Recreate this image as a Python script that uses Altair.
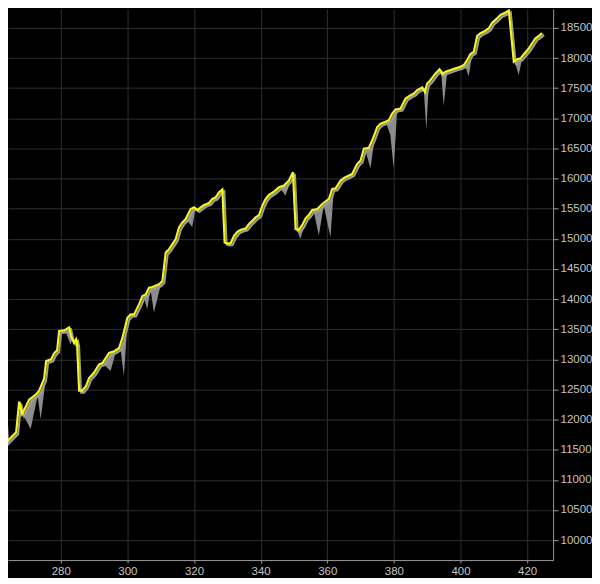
import altair as alt
import pandas as pd

# index (x) and closing value (yellow line)
x_vals = [261.5, 262.7, 263.6, 266.6, 267.5, 268.4, 270.5, 272.6, 273.5, 275.0,
          275.6, 277.1, 278.0, 278.9, 279.5, 281.0, 282.5, 283.1, 284.0, 284.6,
          284.9, 285.5, 286.4, 287.6, 288.5, 290.0, 291.5, 292.5, 294.5, 296.0,
          297.5, 298.5, 299.5, 300.0, 301.0, 302.0, 303.5, 304.5, 305.5, 306.5,
          307.5, 309.5, 310.5, 311.5, 312.5, 313.5, 314.5, 315.5, 316.5, 317.5,
          319.0, 320.0, 321.0, 322.0, 323.0, 324.5, 325.5, 326.5, 327.5, 328.5,
          329.2, 330.0, 331.0, 332.0, 333.0, 334.0, 335.5, 336.5, 337.5, 338.5,
          339.5, 340.5, 341.5, 342.5, 344.0, 345.5, 347.0, 348.5, 349.7, 350.5,
          351.5, 352.5, 353.5, 354.5, 355.5, 357.0, 358.5, 360.5, 361.5, 362.5,
          364.0, 365.0, 366.5, 367.5, 369.0, 370.0, 371.0, 372.5, 373.7, 375.0,
          376.0, 377.3, 378.5, 379.5, 380.5, 382.0, 383.5, 385.0, 386.0, 387.0,
          388.5, 389.3, 390.0, 391.0, 392.3, 393.7, 394.5, 395.5, 397.0, 398.5,
          400.0, 401.0, 402.0, 403.0, 404.0, 405.0, 406.0, 407.5, 408.5, 409.5,
          410.7, 412.0, 413.5, 414.5, 416.0, 417.0, 418.0, 419.0, 420.3, 421.5,
          422.5, 423.5, 424.5]
close_vals = [12330, 12500, 11620, 11790, 12300, 12090, 12330, 12420, 12480, 12680,
              12970, 13000, 13100, 13150, 13470, 13480, 13530, 13380, 13270, 13330,
              13250, 12480, 12480, 12560, 12690, 12780, 12917, 12938, 13105, 13133,
              13188, 13355, 13578, 13688, 13745, 13745, 13912, 14050, 14078, 14188,
              14200, 14245, 14300, 14772, 14828, 14912, 14995, 15188, 15272, 15328,
              15495, 15522, 15478, 15522, 15562, 15595, 15662, 15688, 15772, 15817,
              14938, 14922, 14928, 15050, 15117, 15150, 15172, 15245, 15300, 15355,
              15395, 15550, 15662, 15728, 15783, 15855, 15883, 15967, 16105, 15162,
              15150, 15230, 15340, 15400, 15478, 15495, 15578, 15662, 15828, 15838,
              15967, 16012, 16050, 16078, 16245, 16300, 16495, 16512, 16662, 16855,
              16912, 16938, 16967, 17078, 17145, 17162, 17328, 17383, 17412, 17467,
              17512, 17438, 17578, 17633, 17733, 17812, 17733, 17772, 17800, 17828,
              17855, 17883, 17967, 18067, 18105, 18367, 18412, 18455, 18495, 18588,
              18645, 18717, 18755, 18788, 17938, 17978, 17995, 18062, 18145, 18245,
              18328, 18367, 18412]

# intraperiod lows that dip below the close (gray spikes)
low_dips = {270.5: 11870, 273.5: 12030, 282.5: 13270, 294.5: 12830, 298.5: 12750,
            305.5: 13860, 307.5: 13800, 319.0: 15220, 347.0: 15745, 351.5: 15020,
            357.0: 15080, 360.5: 15050, 372.5: 16190, 378.5: 16745, 379.5: 16190,
            389.3: 16830, 394.5: 17230, 402.0: 17720, 417.0: 17745}

x_ticks = [260, 280, 300, 320, 340, 360, 380, 400, 420]
y_ticks = list(range(10000, 18501, 500))

df = pd.DataFrame({"x": x_vals, "close": close_vals})
df["low"] = [low_dips.get(v, c) for v, c in zip(x_vals, close_vals)]

xs = alt.Scale(domain=[264.15, 427.8], nice=False, zero=False)
ys = alt.Scale(domain=[9669, 18814], nice=False, zero=False)

x_axis = alt.Axis(values=x_ticks, format="d", ticks=True, tickSize=3, labelPadding=2,
                  grid=True, labelOverlap=False)
y_axis = alt.Axis(orient="right", values=y_ticks, format="d", tickSize=5,
                  labelPadding=2, grid=True, labelOverlap=False)

X = alt.X("x:Q", scale=xs, title=None, axis=x_axis)
Y = alt.Y("close:Q", scale=ys, title=None, axis=y_axis)

base = alt.Chart(df)
area = base.mark_area(color="#8c8c8c", clip=True, xOffset=1.5, yOffset=1.5).encode(
    x=X, y=alt.Y("low:Q", scale=ys, title=None, axis=y_axis), y2="close:Q")
shadow = base.mark_line(color="#9c9c9c", strokeWidth=2, clip=True,
                        xOffset=2, yOffset=2).encode(x=X, y=Y)
line = base.mark_line(color="#f4f41e", strokeWidth=2.2, clip=True).encode(x=X, y=Y)

chart = (area + shadow + line).properties(
    width=547, height=553, background="#000000", padding=0
).configure_view(strokeWidth=0).configure_axis(
    gridColor="#2e2e2e", gridWidth=1, domainColor="#9a9a9a", tickColor="#9a9a9a",
    labelColor="#c4c4c4", labelFont="Liberation Sans", labelFontSize=11.5
)

chart.save("out.html", embed_options={"renderer": "svg", "actions": False})
